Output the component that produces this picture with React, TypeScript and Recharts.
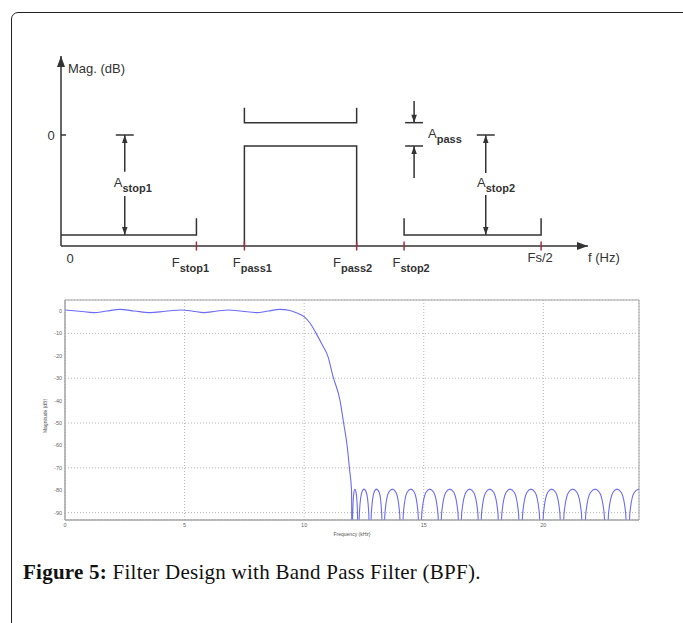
import React from 'react';
import {
  ComposedChart, Line, Scatter, XAxis, YAxis, CartesianGrid, ReferenceArea, Label,
} from 'recharts';

// ---- upper sketch: filter specification (schematic units, f: 0..100, magnitude: dB-like)
const edgeNames = ['0', 'stop1', 'pass1', 'pass2', 'stop2', 'Fs/2'];
const edgeFreqs = [0, 25.7, 34.8, 56.1, 65.1, 91.1];
const specRange = [-66.6, 47.4];
const stopLevel = -60;
const stopEdgeTop = -50;
const passLower = -6.6;
const passUpper = 7.4;
const passEdgeTop = 16.4;

// dimension arrows: A_stop1, A_pass, A_stop2
const dimFreqs = [12.1, 67.0, 80.6];
const dimBarHalf = 1.7;

// ---- lower plot: magnitude response (kHz, dB)
const passFreqs = [
  0, 0.6, 1.2, 1.75, 2.3, 2.9, 3.55, 4.2, 4.88, 5.35, 5.8, 6.3, 6.83, 7.4, 8.0, 8.5, 8.98,
  9.4, 9.7, 10.0, 10.25, 10.5, 10.75, 11.0, 11.2, 11.5, 11.65, 11.8, 11.9, 11.98,
];
const passMags = [
  0.45, -0.1, -0.75, 0, 0.7, 0, -0.75, -0.1, 0.45, -0.1, -0.75, -0.1, 0.45, -0.1, -0.75, 0, 0.7,
  0.2, -0.9, -2.5, -5.5, -10, -15, -20.5, -29, -40, -50, -60.5, -71, -80,
];
const stopFreqs = [
  12.0, 12.03, 12.08, 12.12, 12.17, 12.23,
  12.26, 12.31, 12.41, 12.5, 12.6, 12.7,
  12.75, 12.81, 12.92, 13.02, 13.14, 13.24,
  13.3, 13.38, 13.53, 13.69, 13.84, 13.99,
  14.07, 14.15, 14.3, 14.46, 14.61, 14.76,
  14.84, 14.92, 15.09, 15.25, 15.42, 15.59,
  15.67, 15.75, 15.92, 16.09, 16.26, 16.43,
  16.51, 16.59, 16.76, 16.92, 17.09, 17.26,
  17.34, 17.42, 17.59, 17.76, 17.93, 18.1,
  18.18, 18.27, 18.44, 18.61, 18.79, 18.96,
  19.05, 19.14, 19.31, 19.48, 19.66, 19.83,
  19.92, 20.01, 20.18, 20.35, 20.52, 20.69,
  20.78, 20.87, 21.05, 21.23, 21.41, 21.59,
  21.68, 21.78, 21.97, 22.17, 22.35, 22.54,
  22.64, 22.73, 22.91, 23.08, 23.26, 23.44,
  23.53, 23.62, 23.8, 24.0,
];
const stopMags = [
  -110, -90, -81, -79.6, -81, -90,
  -110, -90, -81, -79.5, -81, -90,
  -110, -90, -81, -79.5, -81, -90,
  -110, -90, -81, -79.5, -81, -90,
  -110, -90, -81, -79.5, -81, -90,
  -110, -90, -81, -79.5, -81, -90,
  -110, -90, -81, -79.5, -81, -90,
  -110, -90, -81, -79.5, -81, -90,
  -110, -90, -81, -79.5, -81, -90,
  -110, -90, -81, -79.5, -81, -90,
  -110, -90, -81, -79.5, -81, -90,
  -110, -90, -81, -79.5, -81, -90,
  -110, -90, -81, -79.5, -81, -90,
  -110, -90, -81, -79.5, -81, -90,
  -110, -90, -81, -79.5, -81, -90,
  -110, -90, -81, -79.5,
];
const freqTicks = [0, 5, 10, 15, 20];
const magTicks = [0, -10, -20, -30, -40, -50, -60, -70, -80, -90];
const magRange = [-93.3, 4.9];

const ink = '#333';
const tickRed = '#9c2f40';
const sans = '"Liberation Sans", Arial, sans-serif';

const pts = (list: number[][]) => list.map(([x, y]) => ({ x, y }));
const [fs1, fp1, fp2, fs2, fsHalf] = edgeFreqs.slice(1);
const [d1, d2, d3] = dimFreqs;

const specLines = [
  pts([[0, stopLevel], [fs1, stopLevel], [fs1, stopEdgeTop]]),
  pts([[fp1, specRange[0]], [fp1, passLower], [fp2, passLower], [fp2, specRange[0]]]),
  pts([[fp1, passEdgeTop], [fp1, passUpper], [fp2, passUpper], [fp2, passEdgeTop]]),
  pts([[fs2, stopEdgeTop], [fs2, stopLevel], [fsHalf, stopLevel], [fsHalf, stopEdgeTop]]),
  // A_stop1
  pts([[d1 - dimBarHalf, 0], [d1 + dimBarHalf, 0]]),
  pts([[d1, -22], [d1, 0]]),
  pts([[d1, -36.6], [d1, stopLevel]]),
  // A_pass
  pts([[d2 - dimBarHalf, passUpper], [d2 + dimBarHalf, passUpper]]),
  pts([[d2 - dimBarHalf, passLower], [d2 + dimBarHalf, passLower]]),
  pts([[d2, 20.4], [d2, passUpper]]),
  pts([[d2, -25.8], [d2, passLower]]),
  // A_stop2
  pts([[d3 - dimBarHalf, 0], [d3 + dimBarHalf, 0]]),
  pts([[d3, -22.8], [d3, 0]]),
  pts([[d3, -36], [d3, stopLevel]]),
];

const axisArrows = [
  { x: 0, y: specRange[1], dir: 'up' },
  { x: 100, y: specRange[0], dir: 'right' },
];
const dimArrows = [
  { x: d1, y: 0, dir: 'up' },
  { x: d1, y: stopLevel, dir: 'down' },
  { x: d2, y: passUpper, dir: 'down' },
  { x: d2, y: passLower, dir: 'up' },
  { x: d3, y: 0, dir: 'up' },
  { x: d3, y: stopLevel, dir: 'down' },
];
const notes = [
  { id: 'mag', x: 0, y: specRange[1], text: 'Mag. (dB)' },
  { id: 'hz', x: 100, y: specRange[0], text: 'f (Hz)' },
  { id: 'astop1', x: d1, y: -30, text: 'A', sub: 'stop1' },
  { id: 'apass', x: d2, y: 0, text: 'A', sub: 'pass' },
  { id: 'astop2', x: d3, y: -30, text: 'A', sub: 'stop2' },
];
const noteOffsets: Record<string, [number, number]> = {
  mag: [7, 16.5], hz: [0, 15.5], astop1: [-11, 2], apass: [14, 3], astop2: [-8.7, 2],
};
const edgeLabelDx = [9, -6, 8, -4, 7, -1];

const responseData = [...passFreqs, ...stopFreqs].map((f, i) => ({
  f,
  db: i < passFreqs.length ? passMags[i] : stopMags[i - passFreqs.length],
}));

function makeArrow(len: number, w: number) {
  // eslint-disable-next-line @typescript-eslint/no-explicit-any
  return (props: any) => {
    const { cx, cy, payload } = props;
    let p = '';
    if (payload.dir === 'up') p = `${cx},${cy} ${cx - w / 2},${cy + len} ${cx + w / 2},${cy + len}`;
    else if (payload.dir === 'down') p = `${cx},${cy} ${cx - w / 2},${cy - len} ${cx + w / 2},${cy - len}`;
    else p = `${cx},${cy} ${cx - len},${cy - w / 2} ${cx - len},${cy + w / 2}`;
    return <polygon points={p} fill={ink} />;
  };
}

// eslint-disable-next-line @typescript-eslint/no-explicit-any
function NoteText(props: any) {
  const { cx, cy, payload } = props;
  const [dx, dy] = noteOffsets[payload.id];
  return (
    <text x={cx + dx} y={cy + dy} fill={ink} fontFamily={sans} fontSize={13}>
      {payload.text}
      {payload.sub && <tspan fontSize={11} fontWeight="bold" dy={5}>{payload.sub}</tspan>}
    </text>
  );
}

// eslint-disable-next-line @typescript-eslint/no-explicit-any
function EdgeTick(props: any) {
  const { x, y, payload } = props;
  const i = edgeFreqs.indexOf(payload.value);
  const name = edgeNames[i];
  if (i === 0) {
    return <text x={x + 9} y={y + 16.5} textAnchor="middle" fontSize={13} fill={ink} fontFamily={sans}>0</text>;
  }
  return (
    <g>
      <line x1={x} y1={y - 4.5} x2={x} y2={y + 4.5} stroke={tickRed} strokeWidth={1.5} />
      {name === 'Fs/2' ? (
        <text x={x + edgeLabelDx[i]} y={y + 15.5} textAnchor="middle" fontSize={13} fill={ink} fontFamily={sans}>Fs/2</text>
      ) : (
        <text x={x + edgeLabelDx[i]} y={y + 20.5} textAnchor="middle" fill={ink} fontFamily={sans}>
          <tspan fontSize={13}>F</tspan>
          <tspan fontSize={11} fontWeight="bold" dy={5}>{name}</tspan>
        </text>
      )}
    </g>
  );
}

// eslint-disable-next-line @typescript-eslint/no-explicit-any
function ZeroTick(props: any) {
  const { x, y } = props;
  return (
    <g>
      <line x1={x} y1={y} x2={x + 5} y2={y} stroke={ink} strokeWidth={1.5} />
      <text x={x - 10} y={y + 4.5} textAnchor="middle" fontSize={13} fill={ink} fontFamily={sans}>0</text>
    </g>
  );
}

function SpecSketch() {
  return (
    <ComposedChart width={683} height={250} margin={{ top: 16, right: 95, bottom: 0, left: 0 }}>
      <XAxis
        dataKey="x" type="number" domain={[0, 100]} ticks={edgeFreqs} height={44}
        tickSize={0} tickMargin={0} tickLine={false} tick={<EdgeTick />}
        axisLine={{ stroke: ink, strokeWidth: 1.5 }} interval={0}
      />
      <YAxis
        dataKey="y" type="number" domain={specRange} ticks={[0]} width={61}
        tickSize={0} tickMargin={0} tickLine={false} tick={<ZeroTick />}
        axisLine={{ stroke: ink, strokeWidth: 1.5 }}
      />
      {specLines.map((d, i) => (
        <Line
          key={i} data={d} dataKey="y" type="linear" stroke={ink} strokeWidth={1.5}
          dot={false} activeDot={false} isAnimationActive={false}
        />
      ))}
      <Scatter data={axisArrows} dataKey="y" shape={makeArrow(11, 8)} isAnimationActive={false} />
      <Scatter data={dimArrows} dataKey="y" shape={makeArrow(8, 5.5)} isAnimationActive={false} />
      <Scatter data={notes} dataKey="y" shape={<NoteText />} isAnimationActive={false} />
    </ComposedChart>
  );
}

function ResponsePlot() {
  const tiny = { fontSize: 5.5, fill: '#666', fontFamily: sans };
  return (
    <ComposedChart
      width={683} height={250} data={responseData}
      margin={{ top: 10, right: 44, bottom: 0, left: 0 }}
    >
      <CartesianGrid stroke="#b5b5b5" strokeDasharray="1 2" />
      <XAxis
        dataKey="f" type="number" domain={[0, 24]} ticks={freqTicks} height={20}
        tickSize={0} tickMargin={3} tickLine={false} tick={tiny} axisLine={{ stroke: '#a5a5a5' }}
      >
        <Label
          // eslint-disable-next-line @typescript-eslint/no-explicit-any
          content={(p: any) => {
            const vb = p.viewBox;
            return (
              <text x={vb.x + vb.width / 2} y={vb.y + 16} textAnchor="middle" fontSize={5} fill="#555" fontFamily={sans}>
                Frequency (kHz)
              </text>
            );
          }}
        />
      </XAxis>
      <YAxis
        type="number" domain={magRange} allowDataOverflow ticks={magTicks} width={65}
        tickSize={0} tickMargin={3} tickLine={false} tick={tiny} axisLine={{ stroke: '#a5a5a5' }}
      >
        <Label
          // eslint-disable-next-line @typescript-eslint/no-explicit-any
          content={(p: any) => {
            const vb = p.viewBox;
            const x = vb.x + 47;
            const y = vb.y + vb.height / 2 + 6;
            return (
              <text x={x} y={y} transform={`rotate(-90 ${x} ${y})`} textAnchor="middle" fontSize={5} fill="#555" fontFamily={sans}>
                Magnitude (dB)
              </text>
            );
          }}
        />
      </YAxis>
      <ReferenceArea x1={0} x2={24} y1={magRange[0]} y2={magRange[1]} fill="none" stroke="#a5a5a5" ifOverflow="visible" />
      <Line
        dataKey="db" type="monotone" stroke="#6b6bf5" strokeWidth={1.1}
        dot={false} activeDot={false} isAnimationActive={false}
      />
    </ComposedChart>
  );
}

export default function App() {
  return (
    <div style={{ position: 'absolute', left: 0, top: 0, width: 683, height: 623, overflow: 'hidden', background: '#fff' }}>
      <div style={{
        position: 'absolute', left: 11, top: 11.5, width: 690, height: 700,
        border: '1.5px solid #222', borderRadius: 7,
      }} />
      <div style={{ position: 'absolute', left: 0, top: 40 }}>
        <SpecSketch />
      </div>
      <div style={{ position: 'absolute', left: 0, top: 290 }}>
        <ResponsePlot />
      </div>
      <div style={{
        position: 'absolute', left: 23, top: 562, fontFamily: '"Liberation Serif", serif',
        fontSize: 21, letterSpacing: 0.25, lineHeight: 1, color: '#111', whiteSpace: 'nowrap',
      }}>
        <b>Figure 5:</b> Filter Design with Band Pass Filter (BPF).
      </div>
    </div>
  );
}
